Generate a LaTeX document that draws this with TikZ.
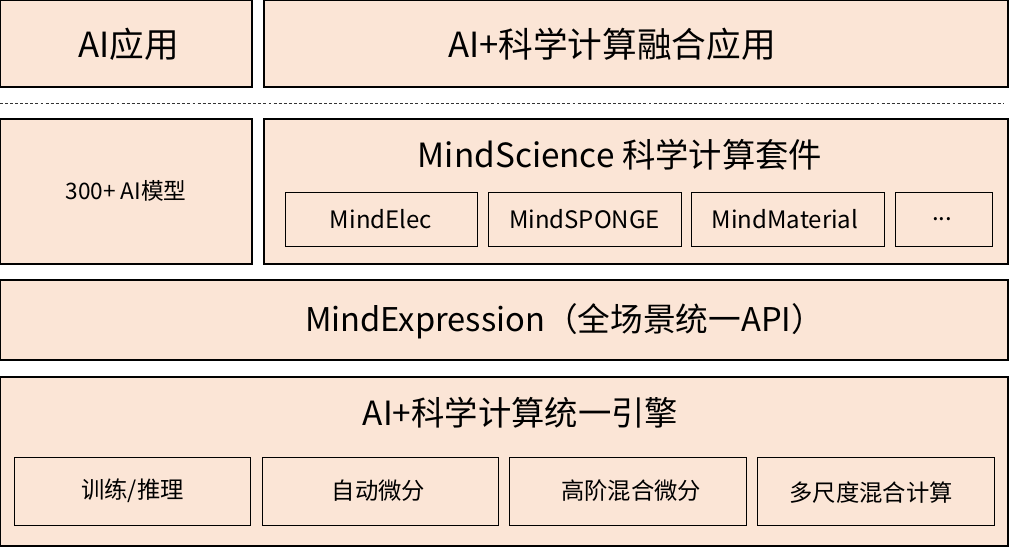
\documentclass[tikz,border=0pt]{standalone}
\usepackage{fontspec}
\setmainfont{Noto Sans CJK SC}
\definecolor{peach}{HTML}{FBE5D6}
\begin{document}
\begin{tikzpicture}[x=0.75pt,y=-0.75pt,
  box/.style={draw=black,fill=peach,line width=0.9pt},
  boxthick/.style={draw=black,fill=peach,line width=1.6pt},
  sub/.style={draw=black,fill=peach,line width=0.75pt},
  big/.style={inner sep=0pt,font=\fontsize{26pt}{29pt}\selectfont},
  mid/.style={inner sep=0pt,font=\fontsize{25pt}{28pt}\selectfont},
  midb/.style={inner sep=0pt,font=\fontsize{24.5pt}{28pt}\selectfont},
  small/.style={inner sep=0pt,font=\fontsize{18pt}{21pt}\selectfont},
  models/.style={inner sep=0pt,font=\fontsize{17pt}{20pt}\selectfont},
  tiny/.style={inner sep=0pt,font=\fontsize{17.5pt}{20pt}\selectfont}]
\useasboundingbox (0,0) rectangle (1022,547);
% top row
\draw[box] (0.6,0.6) rectangle (252,87);
\node[big] (aiapp) at (129,44) {AI应用};
\draw[box] (264,0.6) rectangle (1008,87);
\node[big] (fuse) at (612,44) {AI+科学计算融合应用};
% dashed separator
\coordinate (dl) at (0,103);
\coordinate (dr) at (1004,103);
\draw[line width=0.75pt,dash pattern=on 2.2pt off 1.6pt,black!80] (dl) -- (dr);
% second row
\draw[box] (0.6,119) rectangle (252,264);
\node[models] (models) at (126,191) {300+ AI模型};
\draw[boxthick] (264,119) rectangle (1008,264);
\node[mid] (ms) at (620,155) {MindScience 科学计算套件};
\draw[sub] (285,192) rectangle (477,246);
\node[small] (elec) at (381,219) {MindElec};
\draw[sub] (488,192) rectangle (681,246);
\node[small] (sponge) at (584.5,219) {MindSPONGE};
\draw[sub] (691,192) rectangle (884,246);
\node[small] (mat) at (785,219) {MindMaterial};
\draw[sub] (895,192) rectangle (992,246);
\node[small] (dots) at (942,219) {...};
% MindExpression
\draw[box] (0.6,280) rectangle (1008,360);
\node[midb] (expr) at (564.5,321) {MindExpression（全场景统一API）};
% engine
\draw[box] (0.6,377) rectangle (1008,546);
\node[mid] (eng) at (520.5,413) {AI+科学计算统一引擎};
\draw[sub] (14,457) rectangle (250,525);
\node[tiny] (train) at (132.5,491) {训练/推理};
\draw[sub] (262,457) rectangle (498,525);
\node[tiny] (ad) at (378.5,491) {自动微分};
\draw[sub] (509,457) rectangle (746,525);
\node[tiny] (had) at (631,491) {高阶混合微分};
\draw[sub] (757,457) rectangle (994,525);
\node[tiny] (ms2) at (871,493) {多尺度混合计算};
\end{tikzpicture}
\end{document}
